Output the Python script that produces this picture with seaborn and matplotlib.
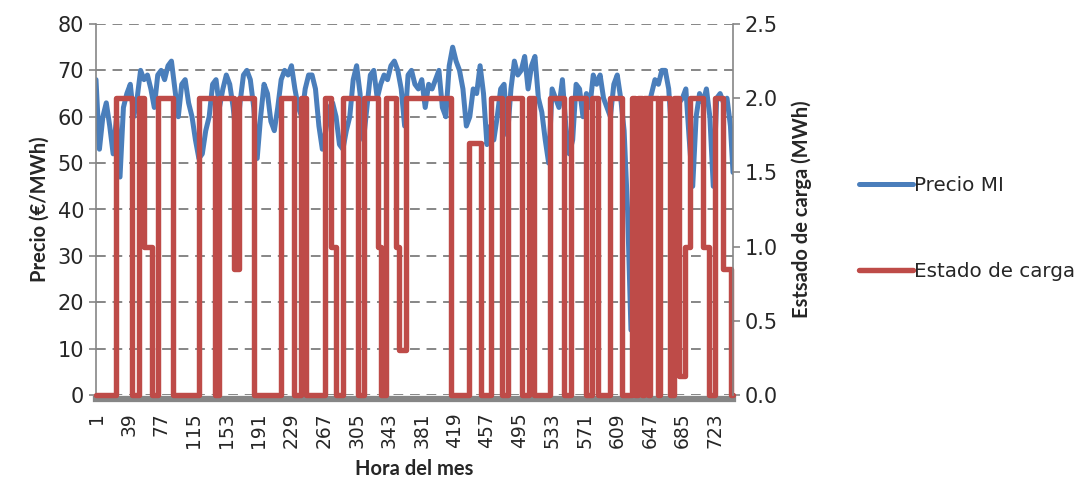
import matplotlib
matplotlib.use("Agg")
import matplotlib.pyplot as plt
import numpy as np
import pandas as pd
import seaborn as sns

# Precio MI, read every 4 hours (hour 1, 5, 9, ... 741) plus the last hour
price_hours = list(range(1, 742, 4)) + [744]
price_values = [
    68, 53, 60, 63, 58, 52, 60, 47, 62, 65, 67, 60, 64, 70, 68, 69, 66, 62, 69, 70,
    68, 71, 72, 66, 60, 67, 68, 63, 60, 55, 51,
    52, 57, 60, 67, 68, 62, 66, 69, 67, 62, 55, 63, 69, 70, 68, 62, 51, 60, 67, 65,
    59, 57, 62, 68, 70, 69, 71, 66, 62,
    60, 66, 69, 69, 66, 58, 53, 57, 62, 63, 60, 54, 53, 57, 60, 68, 71, 65, 55, 62,
    69, 70, 64, 67, 69, 68, 71, 72,
    70, 66, 58, 69, 70, 67, 66, 68, 62, 67, 66, 68, 70, 62, 60, 71, 75, 72, 70, 66,
    58, 60, 66, 65, 71, 65, 54, 58,
    55, 60, 66, 67, 56, 66, 72, 69, 70, 73, 66, 71, 73, 64, 61, 55, 50, 66, 64, 62,
    68, 58, 52, 55, 67, 66, 60, 65, 62,
    69, 67, 69, 64, 62, 60, 67, 69, 64, 57, 40, 14, 35, 52, 58, 60, 62, 65, 68, 67, 70,
    70, 66, 55, 52, 63, 64, 66, 55, 45, 60, 65, 63, 66, 60, 45, 64, 65, 63, 64, 58,
    48,
]

# Estado de carga: hour where each level starts (held until the next hour in the list)
soc_hours = [
    1, 24, 43, 51, 57, 66, 73, 91, 121, 140, 145, 162, 168, 185, 217, 232, 240, 246,
    268, 275, 281, 289, 307, 314, 330, 334, 339, 351, 355, 363, 415, 436, 450, 462,
    475, 482, 498, 506, 512, 530, 547, 555, 573, 579, 587, 600, 614, 626, 630, 633,
    638, 640, 645, 647, 657, 659, 670, 675, 681, 688, 694, 709, 716, 723, 732, 742, 744,
]
soc_levels = [
    0, 2.0, 0, 2.0, 1.0, 0, 2.0, 0, 2.0, 0, 2.0, 0.85, 2.0, 0, 2.0, 0, 2.0, 0,
    2.0, 1.0, 0, 2.0, 0, 2.0, 1.0, 0, 2.0, 1.0, 0.3, 2.0, 0, 1.7, 0, 2.0,
    0, 2.0, 0, 2.0, 0, 2.0, 0, 2.0, 0, 2.0, 0, 2.0, 0, 2.0, 0, 2.0,
    0, 2.0, 0, 2.0, 0, 2.0, 0, 2.0, 0.13, 1.0, 2.0, 1.0, 0, 2.0, 0.85, 0, 0,
]

x_ticks = list(range(1, 744, 38))

price_df = pd.DataFrame({"hora": price_hours, "precio": price_values})
soc_df = pd.DataFrame({"hora": soc_hours, "carga": soc_levels})

sns.set_style("white")
plt.rcParams["font.family"] = ["Lato", "DejaVu Sans"]

blue = "#4A7EBB"
red = "#BE4B48"
grey = "#868686"
txt = "#262626"
wide = ["DejaVu Sans"]

fig = plt.figure(figsize=(10.81, 4.86), dpi=100)
ax = fig.add_axes([96 / 1081, 91 / 486, 637 / 1081, 371 / 486])
ax2 = ax.twinx()

sns.lineplot(data=price_df, x="hora", y="precio", ax=ax, color=blue,
             linewidth=3.6, label="Precio MI", legend=False)
sns.lineplot(data=soc_df, x="hora", y="carga", ax=ax2, color=red,
             linewidth=3.9, drawstyle="steps-post", label="Estado de carga",
             legend=False, clip_on=False)

ax.set_xlim(1, 744)
ax.set_ylim(0, 80)
ax.set_yticks(range(0, 81, 10))
ax2.set_ylim(0, 2.5)
ax2.set_yticks(np.arange(0, 2.51, 0.5))
ax2.set_yticklabels([f"{v:.1f}" for v in np.arange(0, 2.51, 0.5)])
ax.set_xticks(x_ticks)
ax.set_xticklabels([str(t) for t in x_ticks])

ax.yaxis.grid(True, color=grey, linestyle=(0, (5, 3.5)), linewidth=1.4)
ax.set_axisbelow(True)

for a in (ax, ax2):
    a.spines["top"].set_visible(False)
    a.spines["left"].set_color(grey)
    a.spines["right"].set_color(grey)
    a.spines["left"].set_linewidth(1.2)
    a.spines["right"].set_linewidth(1.2)
ax2.spines["bottom"].set_visible(False)
ax.spines["bottom"].set_color(grey)
ax.spines["bottom"].set_linewidth(4.5)
ax.spines["bottom"].set_position(("outward", 3))
ax.spines["right"].set_visible(False)
ax2.spines["left"].set_visible(False)

ax.tick_params(axis="y", which="both", left=True, length=5, color=grey,
               width=1.2, labelcolor=txt)
ax.tick_params(axis="x", bottom=False, labelcolor=txt, pad=6,
               labelrotation=90)
ax2.tick_params(axis="y", right=True, length=5, color=grey, width=1.2,
                labelcolor=txt)
for lab in ax.get_yticklabels() + ax2.get_yticklabels():
    lab.set_family(wide)
    lab.set_fontsize(15)
for lab in ax.get_xticklabels():
    lab.set_family(wide)
    lab.set_fontsize(13.5)

ax.set_xlabel("Hora del mes", fontsize=14.5, fontweight="bold", labelpad=8)
ax.set_ylabel("Precio (€/MWh)", fontsize=14.5, fontweight="bold", labelpad=6)
ax2.set_ylabel("Estsado de carga (MWh)", fontsize=14.5, fontweight="bold", labelpad=10)

handles = ax.get_lines()[:1] + ax2.get_lines()[:1]
fig.legend(handles, ["Precio MI", "Estado de carga"], loc="center left",
           bbox_to_anchor=(0.778, 0.53), frameon=False,
           prop={"family": wide, "size": 14.3},
           handlelength=2.7, handletextpad=0.05, labelspacing=3.4)

fig.savefig("out.png", dpi=100)
